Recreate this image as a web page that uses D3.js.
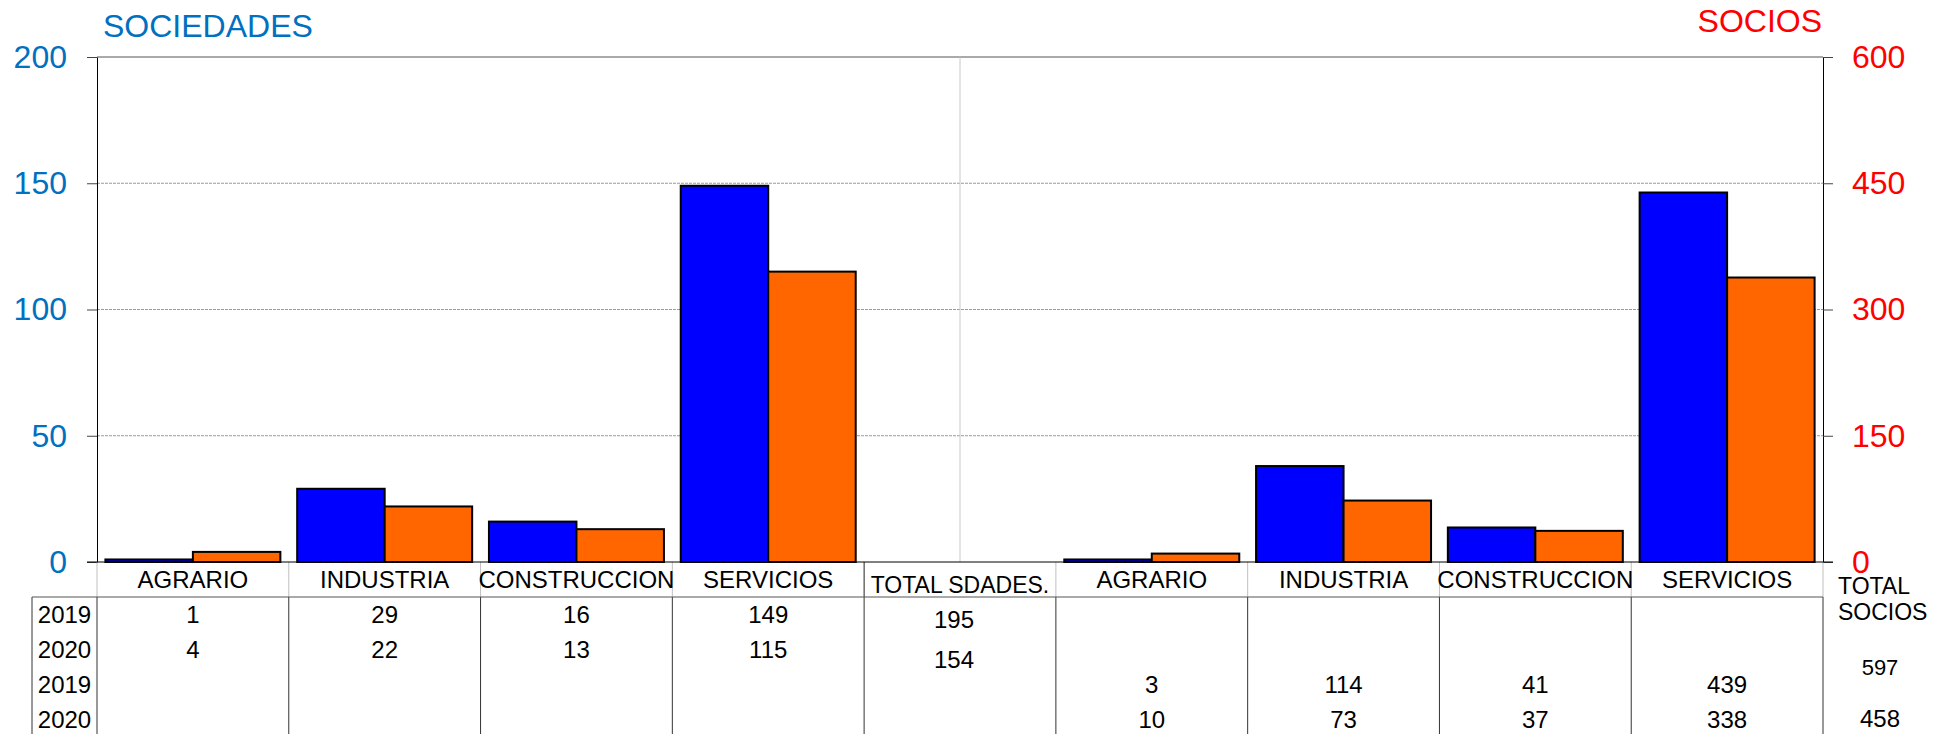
<!DOCTYPE html>
<html>
<head>
<meta charset="utf-8">
<script src="https://cdn.jsdelivr.net/npm/d3@7"></script>
<style>
  body { margin: 0; background: #fff; }
  text { font-family: "Liberation Sans", Arial, sans-serif; }
</style>
</head>
<body>
<div id="chart"></div>
<script>
// data
const sectores = ["AGRARIO", "INDUSTRIA", "CONSTRUCCION", "SERVICIOS"];
const anios = ["2019", "2020"];
const sociedades2019 = [1, 29, 16, 149];
const sociedades2020 = [4, 22, 13, 115];
const socios2019 = [3, 114, 41, 439];
const socios2020 = [10, 73, 37, 338];
const totalSdades = [195, 154];
const totalSocios = [597, 458];
const ticksSociedades = [0, 50, 100, 150, 200];
const ticksSocios = [0, 150, 300, 450, 600];

const width = 1951, height = 734;
const plotLeft = 97, plotRight = 1823, plotTop = 57, plotBottom = 562;
const tableTop = 597, rowH = 35, yearLeft = 32;

const svg = d3.select("#chart").append("svg")
    .attr("width", width)
    .attr("height", height);

// the 9 columns: 4 sectors (sociedades), total, 4 sectors (socios)
const columns = sectores.map((s, i) => ({ key: "sd" + i, label: s }))
    .concat([{ key: "tot", label: "TOTAL SDADES." }])
    .concat(sectores.map((s, i) => ({ key: "so" + i, label: s })));

const x = d3.scaleBand()
    .domain(columns.map(d => d.key))
    .range([plotLeft, plotRight]);

const xSub = d3.scaleBand()
    .domain(anios)
    .range([0, x.bandwidth()])
    .paddingOuter(0.096);

const yL = d3.scaleLinear().domain([0, 200]).range([plotBottom, plotTop]);
const yR = d3.scaleLinear().domain([0, 600]).range([plotBottom, plotTop]);

// gridlines
svg.append("g")
    .selectAll("line")
    .data(ticksSociedades.filter(t => t > 0 && t < 200))
    .join("line")
    .attr("x1", plotLeft).attr("x2", plotRight)
    .attr("y1", d => yL(d)).attr("y2", d => yL(d))
    .attr("stroke", "#9a9a9a")
    .attr("stroke-dasharray", "3,1");

svg.append("line")
    .attr("x1", plotLeft).attr("x2", plotRight)
    .attr("y1", yL(200)).attr("y2", yL(200))
    .attr("stroke", "#555");

const midX = x("tot") + x.bandwidth() / 2;
svg.append("line")
    .attr("x1", midX).attr("x2", midX)
    .attr("y1", plotTop).attr("y2", plotBottom)
    .attr("stroke", "#c8c8c8");

// bars
const barData = [];
sectores.forEach((s, i) => {
    barData.push({ col: "sd" + i, year: "2019", v: sociedades2019[i], y: yL });
    barData.push({ col: "sd" + i, year: "2020", v: sociedades2020[i], y: yL });
    barData.push({ col: "so" + i, year: "2019", v: socios2019[i], y: yR });
    barData.push({ col: "so" + i, year: "2020", v: socios2020[i], y: yR });
});

const color = d3.scaleOrdinal().domain(anios).range(["#0000ff", "#ff6600"]);

svg.append("g")
    .selectAll("rect")
    .data(barData)
    .join("rect")
    .attr("x", d => x(d.col) + xSub(d.year))
    .attr("y", d => d.y(d.v))
    .attr("width", xSub.bandwidth())
    .attr("height", d => plotBottom - d.y(d.v))
    .attr("fill", d => color(d.year))
    .attr("stroke", "#000")
    .attr("stroke-width", 2);

// axes
const axL = svg.append("g")
    .attr("transform", "translate(" + plotLeft + ",0)")
    .call(d3.axisLeft(yL).tickValues(ticksSociedades).tickSize(10).tickSizeOuter(0).tickPadding(20));
axL.selectAll("text").attr("fill", "#0070c0").style("font-size", "32px")
    .style("font-family", "'Liberation Sans', Arial, sans-serif");

const axR = svg.append("g")
    .attr("transform", "translate(" + plotRight + ",0)")
    .call(d3.axisRight(yR).tickValues(ticksSocios).tickSize(10).tickSizeOuter(0).tickPadding(19));
axR.selectAll("text").attr("fill", "#ff0000").style("font-size", "32px")
    .style("font-family", "'Liberation Sans', Arial, sans-serif");

svg.selectAll(".domain").attr("stroke", "#000");
svg.selectAll(".tick line").attr("stroke", "#444");

svg.append("text")
    .attr("x", 103).attr("y", 37)
    .attr("fill", "#0070c0")
    .style("font-size", "32px")
    .text("SOCIEDADES");

svg.append("text")
    .attr("x", plotRight - 1).attr("y", 32)
    .attr("text-anchor", "end")
    .attr("fill", "#ff0000")
    .style("font-size", "32px")
    .text("SOCIOS");

// table
const tableBottom = height;
const grid = svg.append("g");

// light separators in the label row
grid.selectAll("line.lab")
    .data(x.domain().concat(["end"]))
    .join("line")
    .attr("class", "lab")
    .attr("x1", d => d === "end" ? plotRight : x(d))
    .attr("x2", d => d === "end" ? plotRight : x(d))
    .attr("y1", plotBottom).attr("y2", tableTop)
    .attr("stroke", d => d === "tot" ? "#222" : "#c0c0c0");

// dark column lines below
const colEdges = [yearLeft].concat(x.domain().map(k => x(k))).concat([plotRight]);
grid.selectAll("line.col")
    .data(colEdges)
    .join("line")
    .attr("class", "col")
    .attr("x1", d => d).attr("x2", d => d)
    .attr("y1", tableTop).attr("y2", tableBottom)
    .attr("stroke", "#333");

grid.append("line")
    .attr("x1", yearLeft).attr("x2", plotRight)
    .attr("y1", tableTop).attr("y2", tableTop)
    .attr("stroke", "#555");

// zero line over the label row
grid.append("line")
    .attr("x1", plotLeft - 10).attr("x2", plotRight + 10)
    .attr("y1", plotBottom).attr("y2", plotBottom)
    .attr("stroke", "#000");

// category labels
svg.append("g")
    .selectAll("text")
    .data(columns)
    .join("text")
    .attr("x", d => x(d.key) + x.bandwidth() / 2)
    .attr("y", d => d.key === "tot" ? 593 : 588)
    .attr("text-anchor", "middle")
    .style("font-size", d => d.key === "tot" ? "23px" : "24px")
    .text(d => d.label);

const rowY = i => tableTop + 26 + i * rowH;
const yearRows = anios.concat(anios);

svg.append("g")
    .selectAll("text")
    .data(yearRows)
    .join("text")
    .attr("x", (yearLeft + plotLeft) / 2)
    .attr("y", (d, i) => rowY(i))
    .attr("text-anchor", "middle")
    .style("font-size", "24px")
    .text(d => d);

// cell values
const cells = [];
sectores.forEach((s, i) => {
    cells.push({ col: "sd" + i, row: 0, v: sociedades2019[i] });
    cells.push({ col: "sd" + i, row: 1, v: sociedades2020[i] });
    cells.push({ col: "so" + i, row: 2, v: socios2019[i] });
    cells.push({ col: "so" + i, row: 3, v: socios2020[i] });
});

svg.append("g")
    .selectAll("text")
    .data(cells)
    .join("text")
    .attr("x", d => x(d.col) + x.bandwidth() / 2)
    .attr("y", d => rowY(d.row))
    .attr("text-anchor", "middle")
    .style("font-size", "24px")
    .text(d => d.v);

svg.append("g")
    .selectAll("text")
    .data(totalSdades)
    .join("text")
    .attr("x", midX - 6)
    .attr("y", (d, i) => rowY(i) + 5 + i * 5)
    .attr("text-anchor", "middle")
    .style("font-size", "24px")
    .text(d => d);

// total socios column, outside the plot
const tsx = plotRight + 15;
svg.append("text").attr("x", tsx).attr("y", 594).style("font-size", "23px").text("TOTAL");
svg.append("text").attr("x", tsx).attr("y", 620).style("font-size", "23px").text("SOCIOS");

svg.append("g")
    .selectAll("text")
    .data(totalSocios)
    .join("text")
    .attr("x", 1880)
    .attr("y", (d, i) => i === 0 ? 675 : 727)
    .attr("text-anchor", "middle")
    .style("font-size", (d, i) => i === 0 ? "22px" : "24px")
    .text(d => d);
</script>
</body>
</html>
